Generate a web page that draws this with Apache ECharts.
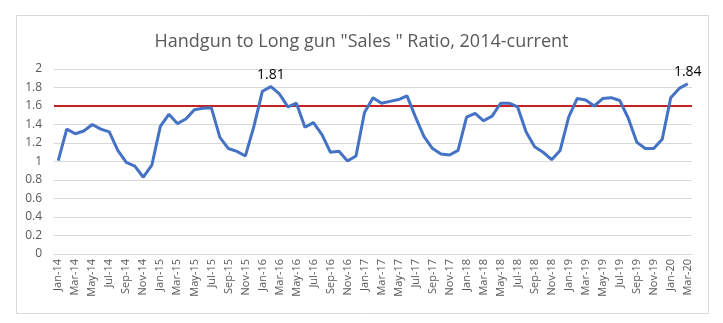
<!DOCTYPE html>
<html>
<head>
<meta charset="utf-8">
<script src="https://cdn.jsdelivr.net/npm/echarts@6/dist/echarts.min.js"></script>
<style>
  html, body { margin: 0; padding: 0; background: #fff; }
  #chart { width: 723px; height: 323px; }
</style>
</head>
<body>
<div id="chart"></div>
<script>
// Monthly categories, Jan-14 .. Mar-20
const months = ['Jan','Feb','Mar','Apr','May','Jun','Jul','Aug','Sep','Oct','Nov','Dec'];
const categories = [];
for (let y = 14; y <= 20; y++) {
  for (let m = 0; m < 12; m++) {
    if (y === 20 && m > 2) break;
    categories.push(months[m] + '-' + y);
  }
}

// Handgun / long gun ratio per month
const ratio = [
  1.01, 1.35, 1.30, 1.33, 1.40, 1.35, 1.32, 1.12, 0.99, 0.95, 0.83, 0.96,
  1.38, 1.51, 1.41, 1.46, 1.56, 1.575, 1.58, 1.26, 1.14, 1.11, 1.06, 1.38,
  1.76, 1.81, 1.73, 1.59, 1.63, 1.37, 1.42, 1.29, 1.10, 1.11, 1.005, 1.06,
  1.53, 1.69, 1.63, 1.65, 1.67, 1.71, 1.48, 1.27, 1.14, 1.08, 1.07, 1.12,
  1.48, 1.52, 1.44, 1.49, 1.63, 1.63, 1.59, 1.32, 1.16, 1.10, 1.02, 1.12,
  1.48, 1.68, 1.665, 1.60, 1.68, 1.69, 1.66, 1.47, 1.21, 1.14, 1.14, 1.24,
  1.69, 1.79, 1.84
];

// Months whose value is printed above the line
const labelled = ['Feb-16', 'Mar-20'];
const threshold = 1.6;

const yTicks = { min: 0, max: 2, step: 0.2 };

const seriesData = ratio.map((v, i) => {
  if (labelled.includes(categories[i])) {
    return {
      value: v,
      label: {
        show: true, position: 'top', distance: 5,
        color: '#000', fontSize: 14, fontFamily: 'Open Sans',
        formatter: p => p.value.toFixed(2)
      }
    };
  }
  return v;
});

const chart = echarts.init(document.getElementById('chart'), null, { renderer: 'canvas' });
chart.setOption({
  animation: false,
  backgroundColor: '#fff',
  title: {
    text: 'Handgun to Long gun "Sales " Ratio, 2014-current',
    left: 'center', top: 28,
    textStyle: { fontFamily: 'Open Sans', fontSize: 18, fontWeight: 'normal', color: '#595959' }
  },
  graphic: [{
    type: 'rect', silent: true, z: -1,
    shape: { x: 16.5, y: 15.5, width: 692, height: 298 },
    style: { fill: 'none', stroke: '#d9d9d9', lineWidth: 1 }
  }],
  grid: { left: 54, right: 31, top: 69, bottom: 69 },
  xAxis: {
    type: 'category',
    data: categories,
    boundaryGap: true,
    axisLine: { lineStyle: { color: '#d9d9d9' } },
    axisTick: { show: false },
    axisLabel: {
      interval: 1, rotate: 90, color: '#595959', fontSize: 11,
      fontFamily: 'Open Sans', margin: 5
    }
  },
  yAxis: {
    type: 'value',
    min: yTicks.min, max: yTicks.max, interval: yTicks.step,
    axisLine: { show: false },
    axisTick: { show: false },
    splitLine: { lineStyle: { color: '#d9d9d9', width: 1 } },
    axisLabel: { color: '#595959', fontSize: 12, fontFamily: 'Open Sans', margin: 12 }
  },
  series: [{
    type: 'line',
    data: seriesData,
    symbol: 'circle',
    symbolSize: 0,
    showSymbol: true,
    lineStyle: { color: '#4472C4', width: 3 },
    itemStyle: { color: '#4472C4' },
    z: 3,
    markLine: {
      silent: true,
      symbol: 'none',
      label: { show: false },
      lineStyle: { color: '#C8201E', width: 2, type: 'solid' },
      data: [{ yAxis: threshold }],
      z: 2
    }
  }]
});
</script>
</body>
</html>
